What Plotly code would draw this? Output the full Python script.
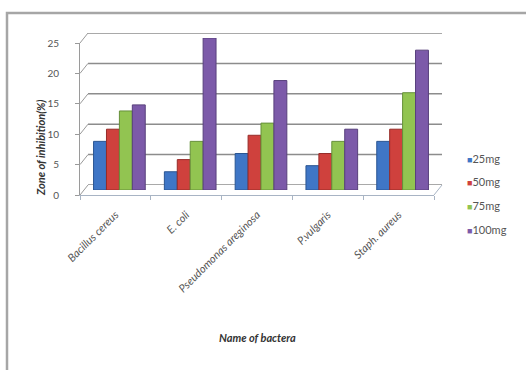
import plotly.graph_objects as go

# Zone of inhibition by bacterium and extract dose
bacteria = ["Bacillus cereus", "E. coli", "Pseudomonas areginosa", "P.vulgaris", "Staph. aureus"]
doses = ["25mg", "50mg", "75mg", "100mg"]
zone_25 = [8, 3, 6, 4, 8]
zone_50 = [10, 5, 9, 6, 10]
zone_75 = [13, 8, 11, 8, 16]
zone_100 = [14, 25, 18, 10, 23]
y_ticks = [0, 5, 10, 15, 20, 25]

series = [zone_25, zone_50, zone_75, zone_100]
fills = ["#3f76c6", "#cf413d", "#92c451", "#7c5aa9"]
edges = ["#2a5592", "#962c29", "#66903a", "#58407c"]

W, H = 526, 370
ML, MR, MT, MB = 80, 84, 33, 175
PW, PH = W - ML - MR, H - MT - MB
DX, DY = 8, 10  # depth offset of the back wall in pixels

def px_x(p):
    return (p - ML) / PW

def px_y(p):
    return (H - MB - p) / PH

fig = go.Figure()

# invisible traces holding the front axes and the back wall axes
fig.add_trace(go.Scatter(x=[None], y=[None], xaxis="x3", yaxis="y3",
                         showlegend=False, hoverinfo="skip"))
fig.add_trace(go.Scatter(x=[None], y=[None], xaxis="x", yaxis="y",
                         showlegend=False, hoverinfo="skip"))

for vals, name, fc, ec in zip(series, doses, fills, edges):
    fig.add_trace(go.Bar(
        x=list(range(len(bacteria))), y=vals, name=name,
        marker=dict(color=fc, line=dict(color=ec, width=1)),
        xaxis="x2", yaxis="y2", showlegend=False,
    ))

n = len(bacteria)
xr = [-0.5, n - 0.5]
yr = [0, 25]
label_font = dict(family="Lato, Liberation Sans", size=10, color="#555555")

fig.update_layout(
    width=W, height=H,
    margin=dict(l=ML, r=MR, t=MT, b=MB),
    paper_bgcolor="white", plot_bgcolor="rgba(0,0,0,0)",
    barmode="group", bargap=0.27, bargroupgap=0.0,
    showlegend=False,
    font=dict(family="Lato, Liberation Sans", color="#444444"),
    # front axes: tick labels and ticks
    xaxis=dict(domain=[0, (PW - DX) / PW], anchor="y", range=xr,
               tickmode="array", tickvals=list(range(n)),
               ticktext=["<i>%s</i>" % b for b in bacteria],
               tickangle=-45, ticks="", showgrid=False, zeroline=False,
               showline=True, linecolor="#a8b4c4", linewidth=1,
               ticklabelstandoff=8,
               tickfont=dict(family="Lato, Liberation Sans", size=11, color="#555555"),
               minor=dict(tickmode="array", tickvals=[i - 0.5 for i in range(n + 1)],
                          ticks="outside", ticklen=4, tickcolor="#a8b4c4", showgrid=False)),
    yaxis=dict(domain=[0, (PH - DY) / PH], anchor="x", range=yr,
               tickmode="array", tickvals=y_ticks, ticks="outside", ticklen=4,
               tickcolor="#9a9a9a", showgrid=False, zeroline=False,
               showline=True, linecolor="#9a9a9a", linewidth=1,
               tickfont=label_font, ticklabelstandoff=14),
    # bars sit halfway into the depth
    xaxis2=dict(domain=[DX / 2 / PW, (PW - DX / 2) / PW], anchor="y2", range=xr,
                visible=False),
    yaxis2=dict(domain=[DY / 2 / PH, (PH - DY / 2) / PH], anchor="x2", range=yr,
                visible=False),
    # back wall
    xaxis3=dict(domain=[DX / PW, 1], anchor="y3", range=xr, visible=False),
    yaxis3=dict(domain=[DY / PH, 1], anchor="x3", range=yr, visible=False),
)

shapes = []
# back wall gridlines
for v in y_ticks:
    shapes.append(dict(type="line", xref="x3 domain", yref="y3",
                       x0=0, x1=1, y0=v, y1=v, layer="below",
                       line=dict(color="#8c8c8c", width=1.5)))
# depth connectors from front ticks to back gridlines
front_bottom = H - MB
front_h = PH - DY
for v in y_ticks:
    y0 = front_bottom - v / 25 * front_h
    shapes.append(dict(type="line", xref="paper", yref="paper",
                       x0=px_x(ML), y0=px_y(y0), x1=px_x(ML + DX), y1=px_y(y0 - DY),
                       layer="below", line=dict(color="#9a9a9a", width=1)))
# right floor edge
shapes.append(dict(type="line", xref="paper", yref="paper",
                   x0=px_x(ML + PW - DX), y0=px_y(front_bottom),
                   x1=px_x(ML + PW), y1=px_y(front_bottom - DY),
                   line=dict(color="#a8b4c4", width=1)))
# chart frame, running off the right and bottom edges
shapes.append(dict(type="rect", xref="paper", yref="paper",
                   x0=px_x(7), y0=px_y(13), x1=px_x(W + 20), y1=px_y(H + 20),
                   line=dict(color="#a6a6a6", width=2.5), fillcolor="rgba(0,0,0,0)"))
fig.update_layout(shapes=shapes)

annotations = [
    dict(text="<b><i>Zone of inhibition(%)</i></b>", xref="paper", yref="paper",
         x=px_x(40), y=px_y(148), xanchor="center", yanchor="middle",
         textangle=-90, showarrow=False,
         font=dict(family="Lato, Liberation Sans", size=11, color="#333333")),
    dict(text="<b><i>Name of bactera</i></b>", xref="paper", yref="paper",
         x=px_x(257), y=px_y(337), xanchor="center", yanchor="middle",
         showarrow=False,
         font=dict(family="Lato, Liberation Sans", size=11, color="#333333")),
]
# legend entries
for i, (name, fc) in enumerate(zip(doses, fills)):
    yy = 158 + i * 23.7
    annotations.append(dict(
        text=("<span style='color:%s;font-size:9px'>■</span>"
              "<span style='color:#555555'>%s</span>") % (fc, name),
        xref="paper", yref="paper", x=px_x(465), y=px_y(yy),
        xanchor="left", yanchor="middle", showarrow=False,
        font=dict(family="Lato, Liberation Sans", size=11)))
fig.update_layout(annotations=annotations)

fig.write_html("out.html")
